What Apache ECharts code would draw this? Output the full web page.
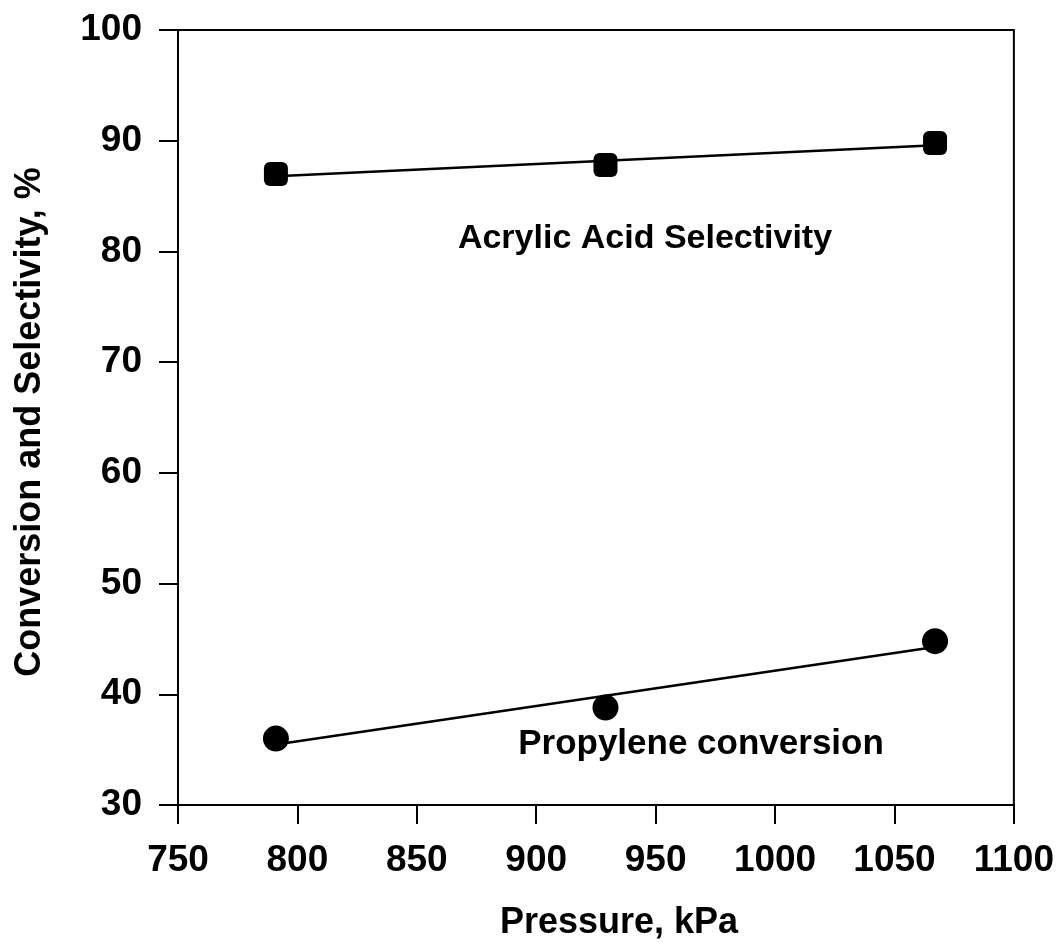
<!DOCTYPE html>
<html>
<head>
<meta charset="utf-8">
<title>Conversion and Selectivity vs Pressure</title>
<script src="https://cdn.jsdelivr.net/npm/echarts@6/dist/echarts.min.js"></script>
<style>
  html, body { margin: 0; padding: 0; background: #fff; }
  #chart { width: 1057px; height: 952px; }
</style>
</head>
<body>
<div id="chart"></div>
<script>
// Reactor pressure, kPa
const pressure = [791, 929, 1067];
// Acrylic acid selectivity, %
const selectivity = [87.0, 87.8, 89.8];
// Propylene conversion, %
const conversion = [36.0, 38.8, 44.8];

const xTicks = { min: 750, max: 1100, interval: 50 };
const yTicks = { min: 30, max: 100, interval: 10 };

const FONT = '"Liberation Sans", Arial, Helvetica, sans-serif';

// least-squares straight line through the measured points
function trend(xs, ys) {
  const n = xs.length;
  const mx = xs.reduce((a, b) => a + b, 0) / n;
  const my = ys.reduce((a, b) => a + b, 0) / n;
  let sxy = 0, sxx = 0;
  for (let i = 0; i < n; i++) {
    sxy += (xs[i] - mx) * (ys[i] - my);
    sxx += (xs[i] - mx) * (xs[i] - mx);
  }
  const k = sxy / sxx;
  const x0 = Math.min(...xs), x1 = Math.max(...xs);
  return [[x0, my + k * (x0 - mx)], [x1, my + k * (x1 - mx)]];
}

const pairs = (xs, ys) => xs.map((x, i) => [x, ys[i]]);

const chart = echarts.init(document.getElementById('chart'), null, { renderer: 'canvas' });

const tickLabel = {
  color: '#000', fontFamily: FONT, fontWeight: 'bold', fontSize: 37,
  formatter: v => String(v)
};

chart.setOption({
  backgroundColor: '#ffffff',
  animation: false,
  grid: {
    left: 178, right: 43, top: 30, bottom: 147,
    show: true, borderColor: '#000', borderWidth: 2, backgroundColor: 'transparent'
  },
  xAxis: {
    type: 'value',
    min: xTicks.min, max: xTicks.max, interval: xTicks.interval,
    axisLine: { show: true, onZero: false, lineStyle: { color: '#000', width: 2 } },
    axisTick: { show: true, inside: false, length: 19, lineStyle: { color: '#000', width: 2 } },
    axisLabel: Object.assign({ margin: 37 }, tickLabel),
    splitLine: { show: false }
  },
  yAxis: {
    type: 'value',
    min: yTicks.min, max: yTicks.max, interval: yTicks.interval,
    axisLine: { show: true, onZero: false, lineStyle: { color: '#000', width: 2 } },
    axisTick: { show: true, inside: false, length: 19, lineStyle: { color: '#000', width: 2 } },
    axisLabel: Object.assign({ margin: 36 }, tickLabel),
    splitLine: { show: false }
  },
  series: [
    {
      name: 'Acrylic Acid Selectivity fit',
      type: 'line',
      data: trend(pressure, selectivity),
      symbol: 'none',
      lineStyle: { color: '#000', width: 2.5 },
      z: 2
    },
    {
      name: 'Propylene conversion fit',
      type: 'line',
      data: trend(pressure, conversion),
      symbol: 'none',
      lineStyle: { color: '#000', width: 2.5 },
      z: 2
    },
    {
      name: 'Acrylic Acid Selectivity',
      type: 'scatter',
      data: pairs(pressure, selectivity),
      symbol: 'roundRect',
      symbolSize: 24,
      itemStyle: { color: '#000', opacity: 1 },
      z: 3
    },
    {
      name: 'Propylene conversion',
      type: 'scatter',
      data: pairs(pressure, conversion),
      symbol: 'circle',
      symbolSize: 26,
      itemStyle: { color: '#000', opacity: 1 },
      z: 3
    }
  ],
  graphic: [
    {
      type: 'text', x: 645, y: 239,
      style: { text: 'Acrylic Acid Selectivity', fill: '#000', font: 'bold 34px ' + FONT, align: 'center', verticalAlign: 'middle' }
    },
    {
      type: 'text', x: 701, y: 744,
      style: { text: 'Propylene conversion', fill: '#000', font: 'bold 35px ' + FONT, align: 'center', verticalAlign: 'middle' }
    },
    {
      type: 'text', x: 619, y: 923,
      style: { text: 'Pressure, kPa', fill: '#000', font: 'bold 36px ' + FONT, align: 'center', verticalAlign: 'middle' }
    },
    {
      type: 'text', x: 30, y: 422, rotation: Math.PI / 2,
      style: { text: 'Conversion and Selectivity, %', fill: '#000', font: 'bold 36px ' + FONT, align: 'center', verticalAlign: 'middle' }
    }
  ]
});
</script>
</body>
</html>
